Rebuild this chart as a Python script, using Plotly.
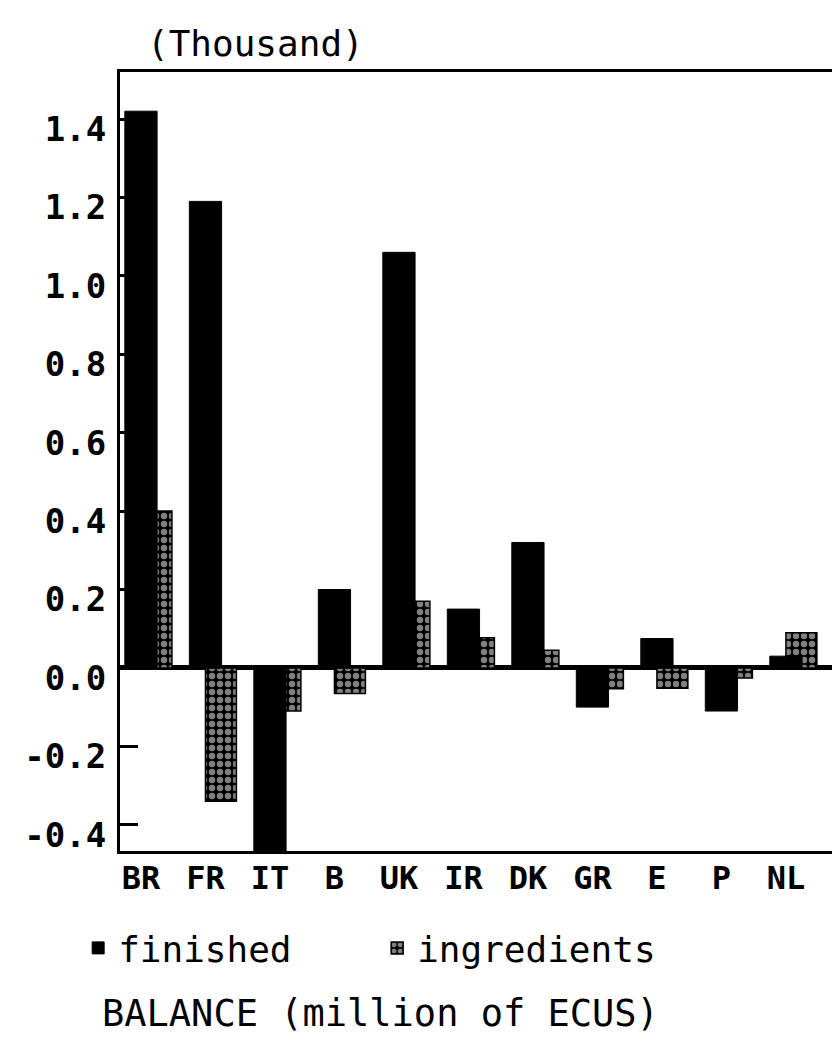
import plotly.graph_objects as go

categories = ["BR", "FR", "IT", "B", "UK", "IR", "DK", "GR", "E", "P", "NL"]
finished = [1.42, 1.19, -0.47, 0.20, 1.06, 0.15, 0.32, -0.10, 0.075, -0.11, 0.03]
ingredients = [0.40, -0.34, -0.11, -0.065, 0.17, 0.077, 0.045, -0.053, -0.052, -0.026, 0.09]
y_tick_values = [-0.4, -0.2, 0.0, 0.2, 0.4, 0.6, 0.8, 1.0, 1.2, 1.4]
y_tick_labels = ["-0.4", "-0.2", "0.0", "0.2", "0.4", "0.6", "0.8", "1.0", "1.2", "1.4"]

FONT = "DejaVu Sans Mono"

fig = go.Figure()
fig.add_trace(go.Bar(
    x=categories, y=ingredients, name="ingredients",
    offset=0.0, width=0.48,
    marker=dict(color="black", line=dict(color="black", width=1.5),
                pattern=dict(shape=".", fgcolor="white", bgcolor="black",
                             size=8, solidity=0.5)),
    legendrank=2,
))
fig.add_trace(go.Bar(
    x=categories, y=finished, name="finished",
    offset=-0.25, width=0.5,
    marker=dict(color="black", line=dict(color="black", width=1)),
    legendrank=1,
))

fig.update_layout(
    width=840, height=1045,
    margin=dict(l=112, r=13, t=64, b=202),
    paper_bgcolor="white", plot_bgcolor="white",
    barmode="overlay",
    font=dict(family=FONT, color="black"),
    title=dict(text="(Thousand)", x=139 / 840, xanchor="left",
               y=1 - 35 / 1045, yanchor="middle", yref="container",
               font=dict(family=FONT, size=36, color="black")),
    showlegend=True,
    legend=dict(orientation="h", x=-0.0587, xanchor="left",
                y=-0.1245, yanchor="middle",
                font=dict(family=FONT, size=36, color="black"),
                entrywidthmode="pixels", entrywidth=254,
                traceorder="normal", itemwidth=30,
                bgcolor="rgba(0,0,0,0)"),
    xaxis=dict(type="category", range=[-0.325, 10.73],
               showline=True, linecolor="black", linewidth=3, mirror=True,
               ticks="", showgrid=False, zeroline=False,
               tickfont=dict(family=FONT, size=32, color="black", weight="bold"),
               ticklabelstandoff=-3),
    yaxis=dict(range=[-0.467, 1.52],
               tickvals=y_tick_values, ticktext=y_tick_labels,
               showline=True, linecolor="black", linewidth=3, mirror=True,
               ticks="inside", ticklen=18, tickwidth=3, tickcolor="black",
               showgrid=False,
               zeroline=True, zerolinecolor="black", zerolinewidth=5,
               tickfont=dict(family=FONT, size=34, color="black", weight="bold"),
               ticklabelstandoff=4, ticklabelshift=10),
    annotations=[dict(text="BALANCE (million of ECUS)", xref="paper", yref="paper",
                      x=0.365, y=-0.208, xanchor="center", yanchor="middle",
                      showarrow=False,
                      font=dict(family=FONT, size=37, color="black"))],
)

fig.write_html("out.html")
